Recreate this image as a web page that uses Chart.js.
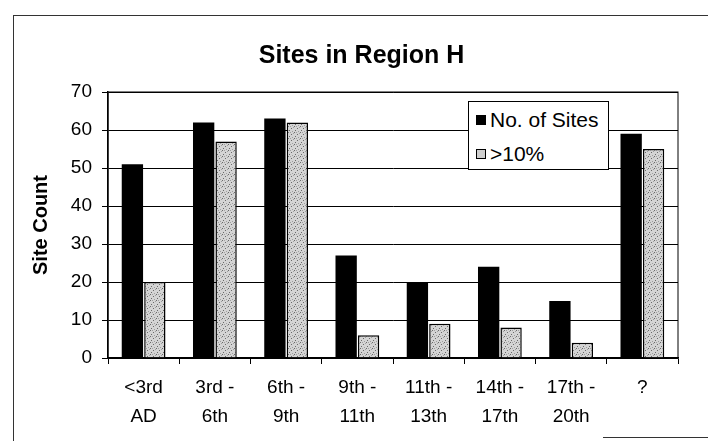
<!DOCTYPE html>
<html>
<head>
<meta charset="utf-8">
<script src="https://cdn.jsdelivr.net/npm/chart.js@4.4.1/dist/chart.umd.min.js"></script>
<style>
  html, body { margin: 0; padding: 0; background: #fff; }
  #wrap { position: relative; width: 708px; height: 441px; overflow: hidden; }
  #chart { position: absolute; left: 0; top: 0; }
  .frame { position: absolute; background: #333; }
  #legend {
    position: absolute; left: 468px; top: 101px; width: 139px; height: 67px;
    border: 1px solid #000; background: #fff;
    font-family: "Liberation Sans", Arial, sans-serif; font-size: 21px; color: #000;
  }
  #legend .item { position: absolute; left: 7px; display: flex; align-items: center; white-space: nowrap; }
  #legend .sw { width: 10px; height: 10px; margin-right: 4px; box-sizing: border-box; }
</style>
</head>
<body>
<div id="wrap">
  <canvas id="chart" width="708" height="441"></canvas>
  <div class="frame" style="left:13px;top:15px;width:1px;height:426px"></div>
  <div class="frame" style="left:13px;top:15px;width:695px;height:1px"></div>
  <div class="frame" style="left:603px;top:437px;width:105px;height:1px"></div>
  <div id="legend"></div>
</div>
<script>
const chartTitle = "Sites in Region H";
const yAxisTitle = "Site Count";
const categories = [["<3rd", "AD"], ["3rd -", "6th"], ["6th -", "9th"], ["9th -", "11th"],
                    ["11th -", "13th"], ["14th -", "17th"], ["17th -", "20th"], "?"];
const seriesNames = ["No. of Sites", ">10%"];
const siteCounts = [51, 62, 63, 27, 20, 24, 15, 59];
const over10Pct = [20, 57, 62, 6, 9, 8, 4, 55];
const yTicks = [0, 10, 20, 30, 40, 50, 60, 70];

const FONT = '"Liberation Sans", Arial, sans-serif';

// grey stipple like the printed fill
function makeStipple() {
  const c = document.createElement("canvas");
  c.width = 6; c.height = 6;
  const g = c.getContext("2d");
  g.fillStyle = "#d4d4d4";
  g.fillRect(0, 0, 6, 6);
  g.fillStyle = "#6a6a6a";
  g.fillRect(0, 0, 1, 1);
  g.fillRect(3, 2, 1, 1);
  g.fillRect(1, 4, 1, 1);
  g.fillStyle = "#a0a0a0";
  g.fillRect(4, 5, 1, 1);
  g.fillRect(5, 1, 1, 1);
  g.fillRect(2, 0, 1, 1);
  return g.createPattern(c, "repeat");
}
const stipple = makeStipple();

// legend box (drawn over the plot like the original)
const legend = document.getElementById("legend");
legend.innerHTML =
  `<div class="item" style="top:6px"><span class="sw" style="background:#000"></span>${seriesNames[0]}</div>
   <div class="item" style="top:40px"><span class="sw" style="background:#cfcfcf;border:1.5px solid #000"></span>${seriesNames[1]}</div>`;

const plotFrame = {
  id: "plotFrame",
  afterDraw(chart) {
    const a = chart.chartArea, ctx = chart.ctx;
    ctx.save();
    ctx.strokeStyle = "#000";
    ctx.lineWidth = 1;
    ctx.strokeRect(a.left, a.top, a.right - a.left, a.bottom - a.top);
    ctx.restore();
  }
};

new Chart(document.getElementById("chart").getContext("2d"), {
  type: "bar",
  data: {
    labels: categories,
    datasets: [
      { label: seriesNames[0], data: siteCounts, backgroundColor: "#000", borderWidth: 0 },
      { label: seriesNames[1], data: over10Pct, backgroundColor: stipple, borderColor: "#000", borderWidth: 1.5 }
    ]
  },
  options: {
    responsive: false,
    animation: false,
    layout: { padding: { left: 15, right: 0, top: 0, bottom: 0 } },
    datasets: { bar: { categoryPercentage: 0.63, barPercentage: 0.95 } },
    plugins: {
      legend: { display: false },
      tooltip: { enabled: false },
      title: {
        display: true, text: chartTitle, color: "#000",
        font: { family: FONT, size: 25, weight: "bold" },
        padding: { top: 41, bottom: 21 }
      }
    },
    scales: {
      x: {
        grid: { display: true, drawOnChartArea: false, tickLength: 6, color: "#000", offset: true },
        border: { color: "#000", width: 1.5 },
        ticks: { color: "#000", font: { family: FONT, size: 19, lineHeight: 1.53 }, padding: 9, maxRotation: 0 },
        afterFit: s => { s.height = 83; }
      },
      y: {
        min: 0, max: 70,
        afterBuildTicks: s => { s.ticks = yTicks.map(v => ({ value: v })); },
        grid: { color: "#000", lineWidth: 1, tickLength: 6 },
        border: { color: "#000", width: 1.5 },
        ticks: { color: "#000", font: { family: FONT, size: 19 }, padding: 10 },
        title: {
          display: true, text: yAxisTitle, color: "#000",
          font: { family: FONT, size: 20, weight: "bold" },
          padding: { top: 14, bottom: 0 }
        },
        afterFit: s => { s.width = 93; }
      },
      y2: {
        position: "right",
        grid: { drawOnChartArea: false, drawTicks: false },
        border: { display: false },
        ticks: { display: false },
        afterFit: s => { s.width = 30; }
      }
    }
  },
  plugins: [plotFrame]
});
</script>
</body>
</html>
